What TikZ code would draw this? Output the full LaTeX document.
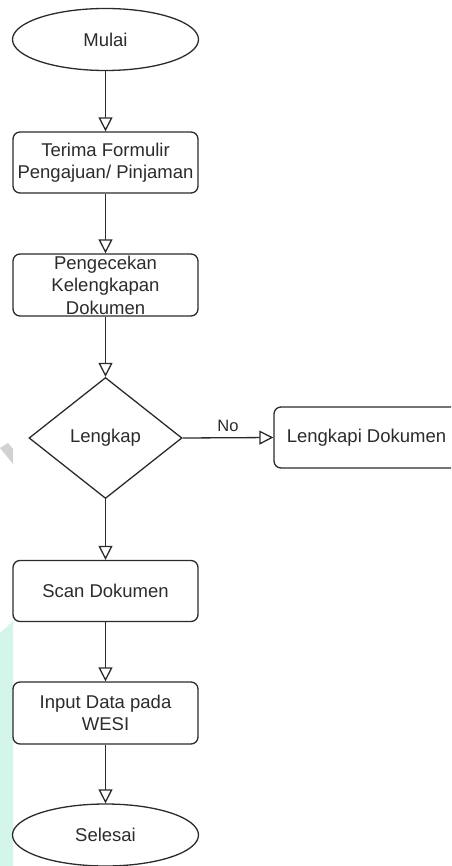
\documentclass[tikz,border=0pt]{standalone}
\usepackage{fontspec}
\setmainfont{Liberation Sans}
\usetikzlibrary{shapes.geometric,arrows.meta}
\definecolor{ink}{HTML}{2B2B2B}
\definecolor{wmcyan}{HTML}{D3F5EA}
\definecolor{wmgray}{HTML}{D2D2D2}
\begin{document}
\begin{tikzpicture}[x=1pt,y=-1pt,
  every node/.style={font=\fontsize{18.5}{22.5}\selectfont, text=ink},
  term/.style={ellipse, draw=ink, line width=1.3pt, minimum width=186pt, minimum height=62pt, inner sep=0pt},
  proc/.style={rectangle, rounded corners=7pt, draw=ink, line width=1.3pt, minimum width=185pt, minimum height=61pt, inner sep=0pt, align=center},
  dec/.style={diamond, draw=ink, line width=1.3pt, minimum width=153pt, minimum height=121pt, inner sep=0pt, aspect=1.27},
  arr/.style={draw=ink, line width=1.3pt, -{Triangle[open, length=14pt, width=14pt, fill=white]}},
  lbl/.style={font=\fontsize{16.5}{20}\selectfont}
]
\useasboundingbox (0,0) rectangle (451,866);
\clip (0,0) rectangle (451,866);
% faint watermark traces
\fill[wmcyan] (0,633) -- (13,621) -- (13,866) -- (0,866) -- cycle;
\fill[wmgray] (0,448) -- (8,443) -- (13,449) -- (13,464) -- cycle;
% nodes
\node[term] (start) at (105.5,39.5) {Mulai};
\node[proc] (b1) at (105.5,162.5) {Terima Formulir\\Pengajuan/ Pinjaman};
\node[proc, minimum height=62pt] (b2) at (105.5,285) {Pengecekan\\Kelengkapan\\Dokumen};
\node[dec] (d) at (105.5,438) {Lengkap};
\node[proc] (lk) at (366.5,437.5) {Lengkapi Dokumen};
\node[proc] (scan) at (105.5,591) {Scan Dokumen};
\node[proc, minimum height=62pt] (inp) at (105.5,713) {Input Data pada\\WESI};
\node[term] (end) at (105.5,835) {Selesai};
% connectors
\draw[arr] (start) -- (b1);
\draw[arr] (b1) -- (b2);
\draw[arr] (b2) -- (d);
\draw[arr] (d.east) -- node[lbl, above=2pt] (no) {No} (lk.west);
\draw[arr] (d) -- (scan);
\draw[arr] (scan) -- (inp);
\draw[arr] (inp) -- (end);
\end{tikzpicture}
\end{document}
